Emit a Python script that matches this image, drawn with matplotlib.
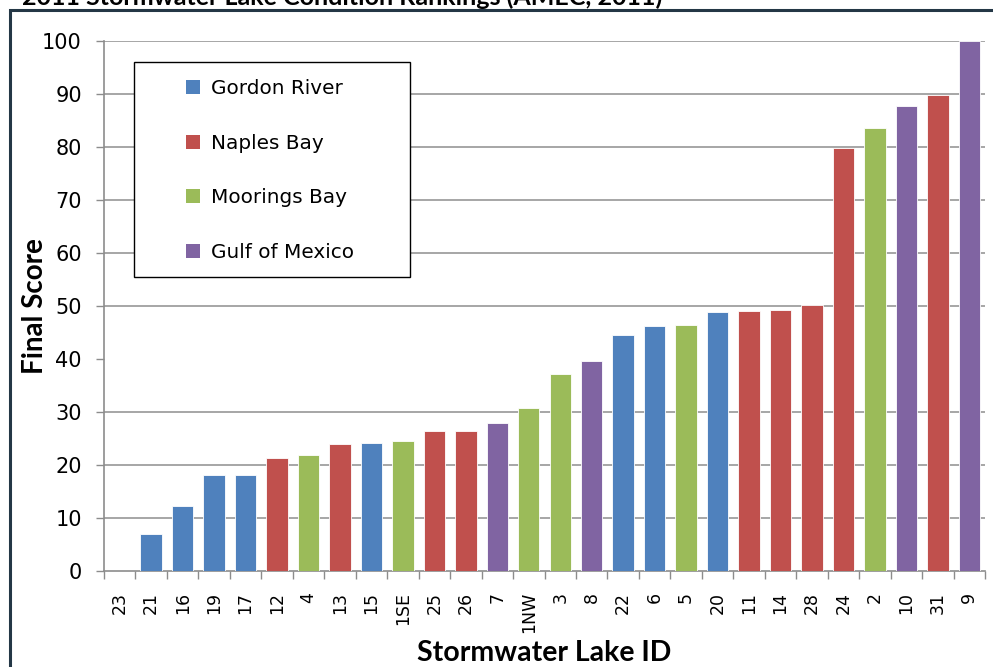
import numpy as np
from matplotlib import pyplot as plt
from matplotlib.patches import Patch, Rectangle

plt.rcParams['font.family'] = 'DejaVu Sans'

blueColor = "#4f81bd"
redColor = "#c0504d"
greenColor = "#9bbb59"
purpleColor = "#8064a2"

lake_ids = ["23", "21", "16", "19", "17", "12", "4", "13", "15", "1SE",
            "25", "26", "7", "1NW", "3", "8", "22", "6", "5", "20",
            "11", "14", "28", "24", "2", "10", "31", "9"]
scores = [0, 6.9, 12.3, 18.2, 18.2, 21.4, 21.9, 24.0, 24.2, 24.6,
          26.5, 26.5, 27.9, 30.8, 37.1, 39.7, 44.6, 46.3, 46.5, 48.8,
          49.1, 49.2, 50.2, 79.9, 83.5, 87.7, 89.9, 100]
basins = ["Gordon River", "Gordon River", "Gordon River", "Gordon River", "Gordon River",
          "Naples Bay", "Moorings Bay", "Naples Bay", "Gordon River", "Moorings Bay",
          "Naples Bay", "Naples Bay", "Gulf of Mexico", "Moorings Bay", "Moorings Bay",
          "Gulf of Mexico", "Gordon River", "Gordon River", "Moorings Bay", "Gordon River",
          "Naples Bay", "Naples Bay", "Naples Bay", "Naples Bay", "Moorings Bay",
          "Gulf of Mexico", "Naples Bay", "Gulf of Mexico"]
basin_names = ["Gordon River", "Naples Bay", "Moorings Bay", "Gulf of Mexico"]
basin_colors = {"Gordon River": blueColor, "Naples Bay": redColor,
                "Moorings Bay": greenColor, "Gulf of Mexico": purpleColor}
y_ticks = [0, 10, 20, 30, 40, 50, 60, 70, 80, 90, 100]

W, H = 993, 667
fig = plt.figure(figsize=(W/100, H/100), dpi=100)
ax = fig.add_axes([104/W, 1 - 571/H, 881/W, 530/H])

x = np.arange(len(lake_ids))
colors = [basin_colors[b] for b in basins]
ax.bar(x, scores, width=0.68, color=colors, edgecolor="white", linewidth=0.6, zorder=3)

ax.set_xlim(-0.5, len(lake_ids) - 0.5)
ax.set_ylim(0, 100)

# grid (the 40 line is absent in the source chart)
for v in y_ticks[1:]:
    if v == 40:
        continue
    ax.axhline(v, color="#a6a6a6", linewidth=1.4, zorder=1)

ax.set_yticks(y_ticks)
ax.set_yticklabels([str(v) for v in y_ticks], fontsize=15)
ax.set_xticks(x)
ax.set_xticklabels(lake_ids, rotation=90, fontsize=12.5)
ax.set_xticks(np.arange(len(lake_ids) + 1) - 0.5, minor=True)
ax.tick_params(axis="x", which="major", length=0, pad=15)
ax.tick_params(axis="x", which="minor", length=6, color="#8c8c8c", width=1)
ax.tick_params(axis="y", length=6, color="#8c8c8c", width=1, pad=10)

for s in ["top", "right"]:
    ax.spines[s].set_visible(False)
for s in ["left", "bottom"]:
    ax.spines[s].set_color("#8c8c8c")
    ax.spines[s].set_linewidth(1.2)

ax.set_ylabel("Final Score", fontsize=20, fontweight="bold", family="Lato", labelpad=-4)
ax.set_xlabel("Stormwater Lake ID", fontsize=20.5, fontweight="bold", family="Lato", labelpad=5)

# legend box drawn separately: the source has wide empty margins around the entries
ax.add_patch(Rectangle(((134 - 104)/881, (571 - 277)/530), 276/881, 215/530,
                       transform=ax.transAxes, facecolor="white", edgecolor="black",
                       linewidth=1.0, zorder=4))
handles = [Patch(facecolor=basin_colors[n], edgecolor="none") for n in basin_names]
leg = ax.legend(handles, basin_names, loc="upper left",
                bbox_to_anchor=((186 - 104)/881, (571 - 79)/530),
                fontsize=14.4, frameon=False, borderpad=0,
                labelspacing=1.78, handlelength=0.7, handleheight=0.7, handletextpad=0.55,
                borderaxespad=0)
leg.set_zorder(5)

# outer frame of the chart, cut at the right and bottom
fig.patches.append(Rectangle((10/W, -0.1), 1.2, 1 - 10/H + 0.1, transform=fig.transFigure,
                             fill=False, edgecolor="#243746", linewidth=2.2))

# title, mostly cut off at the top of the image
fig.text(22/W, 1 + 3/H, "2011 Stormwater Lake Condition Rankings (AMEC, 2011)",
         fontsize=18, fontweight="bold", family="Lato", ha="left", va="center")

plt.savefig("out.png", dpi=100)
